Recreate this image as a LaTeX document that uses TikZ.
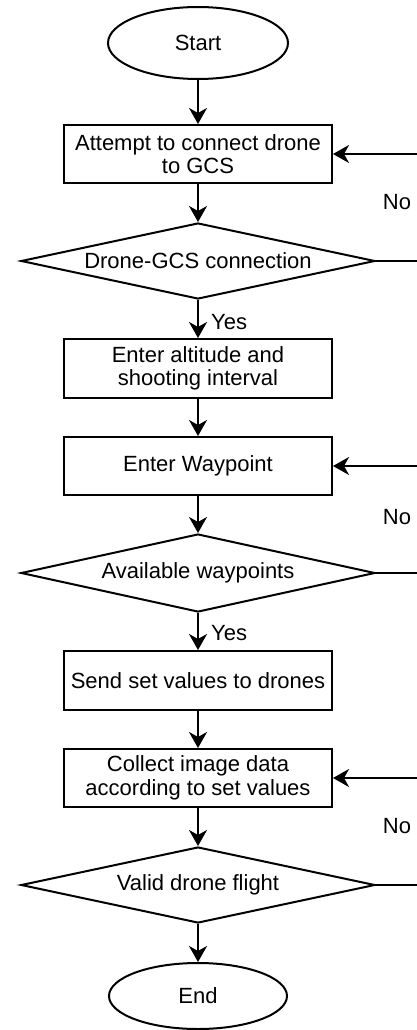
\documentclass[tikz,border=0pt]{standalone}
\usepackage{fontspec}
\setmainfont{Liberation Sans}
\usetikzlibrary{shapes.geometric,arrows.meta}
\begin{document}
\begin{tikzpicture}[x=1pt,y=-1pt,
 every node/.style={font=\fontsize{22}{23.5}\selectfont},
 line/.style={line width=2pt, draw=black},
 arr/.style={line, -{Stealth[length=16pt,width=18pt,inset=5pt]}},
 term/.style={ellipse, draw, line width=2pt, minimum width=180pt, minimum height=72pt, inner sep=0pt},
 proc/.style={rectangle, draw, line width=2pt, minimum width=268pt, minimum height=58pt, inner sep=0pt, align=center},
 dec/.style={diamond, draw, line width=2pt, minimum width=354pt, minimum height=76pt, inner sep=0pt, shape aspect=4.66},
 lbl/.style={inner sep=0pt}
]
\useasboundingbox (0,0) rectangle (417,1030);
\node[term] (start) at (198,43) {Start};
\node[proc] (b1) at (198,154) {Attempt to connect drone\\to GCS};
\node[dec] (d1) at (198,261) {Drone-GCS connection};
\node[proc,minimum height=59pt] (b2) at (198,368.5) {Enter altitude and\\shooting interval};
\node[proc] (b3) at (198,466) {Enter Waypoint};
\node[dec,minimum height=78pt] (d2) at (198,573) {Available waypoints};
\node[proc,minimum height=59pt] (b4) at (198,680.5) {Send set values to drones};
\node[proc] (b5) at (198,778) {Collect image data\\according to set values};
\node[dec] (d3) at (198,885) {Valid drone flight};
\node[term,minimum width=178pt,minimum height=66pt] (end) at (198,996) {End};

\draw[arr] (start) -- (b1);
\draw[arr] (b1) -- (d1);
\draw[arr] (d1) -- (b2);
\draw[arr] (b2) -- (b3);
\draw[arr] (b3) -- (d2);
\draw[arr] (d2) -- (b4);
\draw[arr] (b4) -- (b5);
\draw[arr] (b5) -- (d3);
\draw[arr] (d3) -- (end);

\node[lbl,anchor=west] (y1) at (211,322) {Yes};
\node[lbl,anchor=west] (y2) at (211,633) {Yes};
\node[lbl] (n1) at (397,202) {No};
\node[lbl] (n2) at (397,517) {No};
\node[lbl] (n3) at (397,826) {No};

\coordinate (e1) at (417,261);
\coordinate (e1b) at (417,154);
\coordinate (e2) at (417,573);
\coordinate (e2b) at (417,466);
\coordinate (e3) at (417,885);
\coordinate (e3b) at (417,778);
\draw[line] (d1.east) -- (e1);
\draw[arr] (e1b) -- (b1.east);
\draw[line] (d2.east) -- (e2);
\draw[arr] (e2b) -- (b3.east);
\draw[line] (d3.east) -- (e3);
\draw[arr] (e3b) -- (b5.east);
\end{tikzpicture}
\end{document}
